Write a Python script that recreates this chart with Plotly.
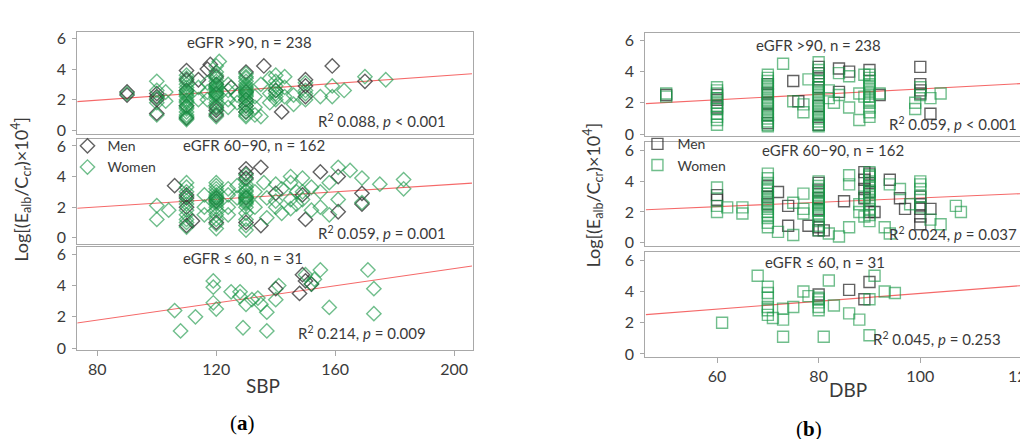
import plotly.graph_objects as go

# ---------------- DATA ----------------
# Panel (a): SBP vs Log[(Ealb/Ccr)x10^4]
# eGFR > 90
a1_men_x = [90, 90, 100, 100, 100, 100, 110, 110, 110, 110, 110, 114, 117, 118, 120, 120, 120, 120, 120, 120, 125,
            130, 130, 130, 130, 130, 136, 140, 142, 150, 150, 150, 159, 170]
a1_men_y = [2.5, 2.3, 2.4, 2.2, 2.0, 1.1, 3.9, 3.3, 2.6, 1.6, 0.8, 3.3, 4.0, 4.3, 3.5, 3.0, 2.4, 1.5, 1.0, 1.3, 2.8,
            3.8, 2.5, 2.0, 1.6, 1.2, 4.2, 2.6, 1.2, 3.3, 2.9, 2.2, 4.2, 3.2]
a1_wom_x = [90, 100, 100, 100, 100, 100, 103, 103,
            110, 110, 110, 110, 110, 110, 110, 110, 110, 110, 110, 110, 110, 110, 110, 110, 110, 110, 110, 110, 110,
            114, 114, 117, 117, 117,
            121, 120, 120, 120, 120, 120, 120, 120, 120, 120, 120, 120, 120, 120, 120, 120, 120, 120, 120, 120, 120,
            124, 124, 124, 124, 127, 127,
            130, 130, 130, 130, 130, 130, 130, 130, 130, 130, 130, 130, 130, 130, 130, 130, 130, 130, 130, 130,
            133, 133, 133, 135, 135, 138, 138, 138,
            140, 140, 140, 140, 140, 140, 140, 143, 143, 143, 146, 146,
            150, 150, 150, 150, 155, 159, 159, 163, 170, 177]
a1_wom_y = [2.4, 3.2, 2.6, 2.1, 1.8, 1.0, 2.5, 1.9,
            3.6, 3.4, 3.2, 3.0, 2.8, 2.6, 2.5, 2.4, 2.3, 2.2, 2.0, 1.9, 1.8, 1.6, 1.5, 1.4, 1.2, 1.0, 0.9, 0.8, 0.7,
            2.8, 2.0, 3.1, 2.5, 2.0,
            4.5, 4.2, 3.8, 3.6, 3.4, 3.2, 3.0, 2.9, 2.8, 2.7, 2.6, 2.5, 2.4, 2.3, 2.2, 2.0, 1.8, 1.6, 1.4, 1.1, 0.9,
            3.0, 2.6, 2.0, 1.5, 2.3, 1.8,
            3.7, 3.5, 3.4, 3.2, 3.0, 2.9, 2.8, 2.7, 2.6, 2.5, 2.4, 2.3, 2.2, 2.0, 1.8, 1.6, 1.4, 1.2, 1.0, 0.9,
            1.5, 1.0, 2.2, 0.9, 3.0, 3.4, 2.4, 1.8,
            3.6, 3.2, 2.9, 2.6, 2.4, 2.2, 2.0, 3.5, 2.8, 2.2, 2.3, 1.7,
            3.1, 2.6, 2.4, 2.0, 2.2, 2.9, 2.2, 2.6, 3.5, 3.3]

# eGFR 60-90
a2_men_x = [106, 110, 110, 110, 110, 112, 120, 120, 120, 130, 130, 130, 130, 130, 135, 135, 140, 149, 150, 155,
            161, 161, 169, 169]
a2_men_y = [3.4, 2.8, 2.6, 2.0, 0.8, 1.1, 2.6, 2.4, 1.0, 4.5, 4.2, 3.9, 2.6, 1.0, 4.6, 0.8, 2.9, 2.8, 1.2, 4.3,
            4.0, 1.7, 2.9, 2.2]
a2_wom_x = [100, 100, 104,
            110, 110, 110, 110, 110, 110, 110, 110, 110, 110, 110,
            116, 116, 116,
            120, 120, 120, 120, 120, 120, 120, 120, 120, 120, 120, 120, 120, 120, 120, 120, 120,
            124, 124, 124, 124, 127, 127,
            130, 130, 130, 130, 130, 130, 130, 130, 130, 130, 130, 130, 130, 130, 130, 130, 130, 130,
            133, 133, 136, 137, 137, 140, 140, 140, 142, 142, 145, 145, 145, 145, 147, 147,
            149, 149, 149, 152, 152, 155, 155, 158, 158, 161, 161, 165, 169, 169, 175, 183, 183]
a2_wom_y = [2.1, 1.2, 1.8,
            3.6, 3.3, 3.0, 2.7, 2.4, 2.2, 1.8, 1.5, 1.2, 1.0, 0.7,
            2.8, 2.0, 1.5,
            3.6, 3.4, 3.2, 3.0, 2.8, 2.7, 2.6, 2.5, 2.4, 2.3, 2.2, 2.0, 1.8, 1.5, 1.2, 0.9, 0.6,
            3.2, 2.8, 2.0, 1.5, 3.4, 2.6,
            4.1, 3.8, 3.5, 3.3, 3.1, 3.0, 2.8, 2.7, 2.6, 2.5, 2.4, 2.3, 2.2, 2.0, 1.6, 1.2, 0.8, 0.5,
            3.0, 2.0, 3.6, 2.6, 1.3, 3.5, 2.4, 2.0, 3.2, 1.6, 4.0, 3.6, 2.5, 1.9, 3.0, 2.2,
            3.9, 3.0, 2.5, 3.3, 1.8, 3.0, 2.0, 1.5, 3.6, 4.6, 2.5, 4.4, 3.9, 2.3, 3.5, 3.8, 3.2]

# eGFR <= 60
a3_men_x = [140, 148, 149, 150, 152]
a3_men_y = [3.8, 3.5, 4.7, 4.3, 4.1]
a3_wom_x = [106, 108, 113, 119, 119, 119, 120, 125, 128, 128, 129, 130, 132, 134, 135, 137, 137, 140, 141,
            150, 152, 153, 155, 158, 171, 173, 173]
a3_wom_y = [2.4, 1.1, 2.0, 4.3, 3.9, 2.9, 2.5, 3.6, 3.6, 3.3, 1.3, 2.8, 3.1, 3.2, 2.8, 2.3, 1.1, 3.1, 4.0,
            4.7, 4.1, 4.4, 5.0, 2.6, 5.0, 3.8, 2.2]

# Panel (b): DBP vs Log[(Ealb/Ccr)x10^4]
# eGFR > 90
b1_men_x = [50, 60, 60, 60, 70, 70, 70, 70, 70, 75, 76, 80, 80, 80, 80, 80, 80, 80, 84, 84, 86, 90, 92,
            100, 100, 100, 100, 102]
b1_men_y = [2.5, 2.5, 2.2, 1.7, 3.2, 2.6, 2.0, 1.2, 0.7, 3.4, 2.1, 4.3, 3.9, 3.5, 3.0, 1.8, 1.1, 0.6, 4.2, 2.7,
            4.0, 4.1, 2.5, 4.3, 3.2, 2.8, 2.6, 1.3]
b1_wom_x = [50, 50,
            60, 60, 60, 60, 60, 60, 60, 60, 60, 60, 60,
            70, 70, 70, 70, 70, 70, 70, 70, 70, 70, 70, 70, 70, 70, 70, 70, 70, 70,
            73, 75, 77, 77, 78,
            80, 80, 80, 80, 80, 80, 80, 80, 80, 80, 80, 80, 80, 80, 80, 80, 80, 80, 80,
            82, 82, 83, 84, 84, 86, 86, 88, 88, 89, 89,
            90, 90, 90, 90, 90, 90, 90, 90, 90, 90, 90, 90, 90,
            92, 99, 99, 100, 100, 102, 104, 121]
b1_wom_y = [2.4, 2.6,
            3.0, 2.8, 2.6, 2.3, 2.0, 1.8, 1.6, 1.3, 1.1, 0.9, 0.6,
            3.8, 3.6, 3.4, 3.2, 3.0, 2.8, 2.6, 2.4, 2.2, 2.0, 1.8, 1.6, 1.4, 1.2, 1.0, 0.8, 0.6, 0.5,
            4.5, 2.1, 1.9, 1.4, 3.5,
            4.6, 4.1, 3.7, 3.4, 3.2, 3.0, 2.8, 2.6, 2.4, 2.2, 2.0, 1.8, 1.6, 1.4, 1.2, 1.0, 0.8, 0.6, 0.5,
            2.8, 2.3, 2.0, 3.9, 2.5, 3.7, 1.7, 2.6, 0.9, 3.8, 2.4,
            3.8, 3.6, 3.4, 3.2, 3.0, 2.8, 2.6, 2.4, 2.2, 2.0, 1.7, 1.4, 1.1,
            2.6, 2.0, 1.6, 3.0, 2.5, 2.3, 2.6, 3.6]

# eGFR 60-90
b2_men_x = [60, 60, 70, 70, 70, 72, 74, 74, 78, 80, 80, 80, 80, 80, 80, 81, 85, 89, 89, 89, 89, 90, 90, 90,
            90, 91, 94, 96, 97, 100, 100, 100, 100, 100, 102]
b2_men_y = [3.1, 2.8, 3.7, 3.0, 2.5, 3.3, 2.4, 1.1, 1.1, 3.9, 3.4, 2.9, 2.2, 1.0, 0.8, 0.8, 2.7, 4.6, 4.1,
            3.5, 2.9, 4.5, 3.9, 3.3, 2.0, 2.0, 4.1, 2.9, 2.2, 3.0, 2.5, 2.2, 1.7, 1.2, 2.2]
b2_wom_x = [60, 60, 60, 62, 65, 65,
            70, 70, 70, 70, 70, 70, 70, 70, 70, 70, 70, 70, 70, 70, 70, 70,
            72, 75, 75, 77, 77, 77,
            80, 80, 80, 80, 80, 80, 80, 80, 80, 80, 80, 80, 80, 80, 80, 80, 80,
            82, 84, 86, 86, 86, 88, 88, 89, 89,
            90, 90, 90, 90, 90, 90, 90, 90, 90, 90, 90, 90, 90,
            93, 94, 94, 96, 98, 100, 100, 100, 100, 100, 102, 104, 107, 108]
b2_wom_y = [3.6, 2.4, 2.0, 2.3, 2.3, 1.9,
            4.5, 4.2, 3.9, 3.6, 3.4, 3.2, 3.0, 2.8, 2.6, 2.4, 2.2, 2.0, 1.8, 1.6, 1.3, 1.0, 0.7, 0.5,
            2.6, 2.2, 1.9, 3.2, 2.6, 2.1,
            4.0, 3.7, 3.5, 3.3, 3.1, 2.9, 2.7, 2.5, 2.3, 2.1, 1.9, 1.7, 1.4, 1.1, 0.8, 0.6, 0.4,
            1.0, 4.4, 3.8, 2.5, 2.0, 3.0, 1.7, 4.4, 3.3,
            4.6, 4.3, 4.0, 3.7, 3.4, 3.1, 2.8, 2.5, 2.2, 1.8, 1.4, 1.0, 0.6,
            3.8, 3.5, 2.5, 2.3, 3.5, 4.0, 3.8, 3.0, 1.5, 1.2, 2.4, 2.0, 3.0, 3.9]

# eGFR <= 60
b3_men_x = [80, 86, 89, 90]
b3_men_y = [3.8, 4.1, 3.5, 4.6]
b3_wom_x = [61, 68, 70, 70, 70, 70, 70, 70, 71, 73, 73, 73, 75, 77, 78, 80, 80, 80, 80, 80, 81, 82, 83,
            86, 88, 90, 90, 91, 93, 95]
b3_wom_y = [2.0, 5.0, 4.3, 3.9, 3.6, 3.0, 2.8, 2.5, 2.3, 2.9, 2.2, 1.1, 3.0, 4.0, 3.7, 3.6, 3.3, 3.0, 2.8,
            3.5, 1.1, 4.7, 3.1, 2.6, 2.2, 1.2, 3.5, 5.0, 4.0, 3.9]

# Regression lines (endpoints)
fit_a_x = [73, 206]
fit_a1_y = [1.87, 3.69]
fit_a2_y = [1.93, 3.57]
fit_a3_y = [1.60, 5.25]
fit_b_x = [46, 121]
fit_b1_y = [1.95, 3.25]
fit_b2_y = [2.15, 3.21]
fit_b3_y = [2.52, 4.40]

titles_a = ["eGFR >90, n = 238", "eGFR 60\u221290, n = 162", "eGFR \u2264 60, n = 31"]
stats_a = ["R<sup>2</sup> 0.088, <i>p</i> < 0.001", "R<sup>2</sup> 0.059, <i>p</i> = 0.001",
           "R<sup>2</sup> 0.214, <i>p</i> = 0.009"]
stats_b = ["R<sup>2</sup> 0.059, <i>p</i> < 0.001", "R<sup>2</sup> 0.024, <i>p</i> = 0.037",
           "R<sup>2</sup> 0.045, <i>p</i> = 0.253"]
xticks_a = [80, 120, 160, 200]
xticks_b = [60, 80, 100, 120]
yticks = [0, 2, 4, 6]

# ---------------- FIGURE ----------------
W, H = 1028, 439
FONT = "Lato"
MEN = "rgba(45,45,45,0.75)"
WOMEN = "rgba(25,150,70,0.62)"
FIT = "rgba(245,105,105,1)"
TXT = "#3a3a3a"


def fx(p):
    return p / W


def fy(p):
    return 1 - p / H


fig = go.Figure()

# panel boxes in pixels: (left, right, top, bottom)
boxes = [
    (70, 469, 21, 126), (70, 469, 131, 238), (70, 469, 242, 347),
    (643, 1028, 23, 128), (643, 1028, 134, 240), (643, 1028, 247, 354),
]
yranges = [(-0.25, 6.45), (-0.38, 6.45), (-0.13, 6.44), (-0.13, 6.44), (-0.19, 6.57), (-0.19, 6.5)]
xranges = [(73.3, 206.3)] * 3 + [(45.9, 121.0)] * 3

series = [
    (a1_men_x, a1_men_y, a1_wom_x, a1_wom_y, fit_a_x, fit_a1_y),
    (a2_men_x, a2_men_y, a2_wom_x, a2_wom_y, fit_a_x, fit_a2_y),
    (a3_men_x, a3_men_y, a3_wom_x, a3_wom_y, fit_a_x, fit_a3_y),
    (b1_men_x, b1_men_y, b1_wom_x, b1_wom_y, fit_b_x, fit_b1_y),
    (b2_men_x, b2_men_y, b2_wom_x, b2_wom_y, fit_b_x, fit_b2_y),
    (b3_men_x, b3_men_y, b3_wom_x, b3_wom_y, fit_b_x, fit_b3_y),
]

layout_axes = {}
for i, (mx, my, wx, wy, fxs, fys) in enumerate(series):
    n = i + 1
    xa = "x" if n == 1 else f"x{n}"
    ya = "y" if n == 1 else f"y{n}"
    left_side = i < 3
    sym = "diamond-open" if left_side else "square-open"
    size = 11
    leg = "legend" if left_side else "legend2"
    show = (i % 3 == 1)
    fig.add_trace(go.Scatter(x=fxs, y=fys, mode="lines", line=dict(color=FIT, width=1.1),
                             xaxis=xa, yaxis=ya, showlegend=False, hoverinfo="skip"))
    fig.add_trace(go.Scatter(x=mx, y=my, mode="markers", name="Men",
                             marker=dict(symbol=sym, size=size, color=MEN, line=dict(color=MEN, width=1.4)),
                             xaxis=xa, yaxis=ya, showlegend=show, legend=leg))
    fig.add_trace(go.Scatter(x=wx, y=wy, mode="markers", name="Women",
                             marker=dict(symbol=sym, size=size, color=WOMEN, line=dict(color=WOMEN, width=1.4)),
                             xaxis=xa, yaxis=ya, showlegend=show, legend=leg))
    l, r, t, b = boxes[i]
    bottom = (i % 3 == 2)
    layout_axes["xaxis" if n == 1 else f"xaxis{n}"] = dict(
        domain=[fx(l), min(1.0, fx(r))], range=list(xranges[i]), anchor=ya,
        showline=True, linecolor="#a8a8a8", linewidth=1.2, mirror=True,
        showgrid=False, zeroline=False,
        tickvals=(xticks_a if left_side else xticks_b) if bottom else [],
        ticks="outside" if bottom else "", ticklen=5, tickcolor="#a8a8a8",
        ticklabeloverflow="allow",
        showticklabels=bottom, tickfont=dict(family=FONT, size=16, color=TXT))
    layout_axes["yaxis" if n == 1 else f"yaxis{n}"] = dict(
        domain=[fy(b), fy(t)], range=list(yranges[i]), anchor=xa,
        showline=True, linecolor="#a8a8a8", linewidth=1.2, mirror=True,
        showgrid=False, zeroline=False, tickvals=yticks,
        ticks="outside", ticklen=4, tickcolor="#a8a8a8", ticklabelstandoff=3,
        tickfont=dict(family=FONT, size=16, color=TXT))

annotations = []


def ann(text, x, y, size=15, xanchor="center", **kw):
    annotations.append(dict(text=text, x=fx(x), y=fy(y), xref="paper", yref="paper",
                            xanchor=xanchor, yanchor="middle", showarrow=False,
                            font=dict(family=kw.pop("family", FONT), size=size, color=kw.pop("color", TXT)), **kw))


# panel titles
ann(titles_a[0], 244, 32)
ann(titles_a[1], 248, 137)
ann(titles_a[2], 237, 253)
ann(titles_a[0], 818, 35)
ann(titles_a[1], 832, 142)
ann(titles_a[2], 824, 257)
# statistics
ann(stats_a[0], 311, 112, xanchor="left")
ann(stats_a[1], 311, 227, xanchor="left")
ann(stats_a[2], 291, 329, xanchor="left")
ann(stats_b[0], 887, 115, xanchor="left")
ann(stats_b[1], 887, 228, xanchor="left")
ann(stats_b[2], 871, 335, xanchor="left")
# axis titles
ytitle = "Log[(E<sub>alb</sub>/C<sub>cr</sub>)\u00d710<sup>4</sup>]"
ann(ytitle, 13, 182, size=18, textangle=-90)
ann(ytitle, 590, 188, size=18, textangle=-90)
ann("SBP", 257, 383, size=19)
ann("DBP", 847, 387, size=19)
# sub-figure labels
ann("(<b>a</b>)", 237, 422, size=21, family="Liberation Serif", color="#000000")
ann("(<b>b</b>)", 808, 428, size=21, family="Liberation Serif", color="#000000")

legend_common = dict(bgcolor="rgba(0,0,0,0)", borderwidth=0, font=dict(family=FONT, size=14, color=TXT),
                     xanchor="left", yanchor="top", itemwidth=30, tracegroupgap=0)
fig.update_layout(
    width=W, height=H, margin=dict(l=0, r=0, t=0, b=0),
    paper_bgcolor="white", plot_bgcolor="white",
    annotations=annotations,
    legend=dict(x=fx(60), y=fy(122), **legend_common),
    legend2=dict(x=fx(635), y=fy(120), **legend_common),
    **layout_axes,
)

fig.write_html("out.html")
